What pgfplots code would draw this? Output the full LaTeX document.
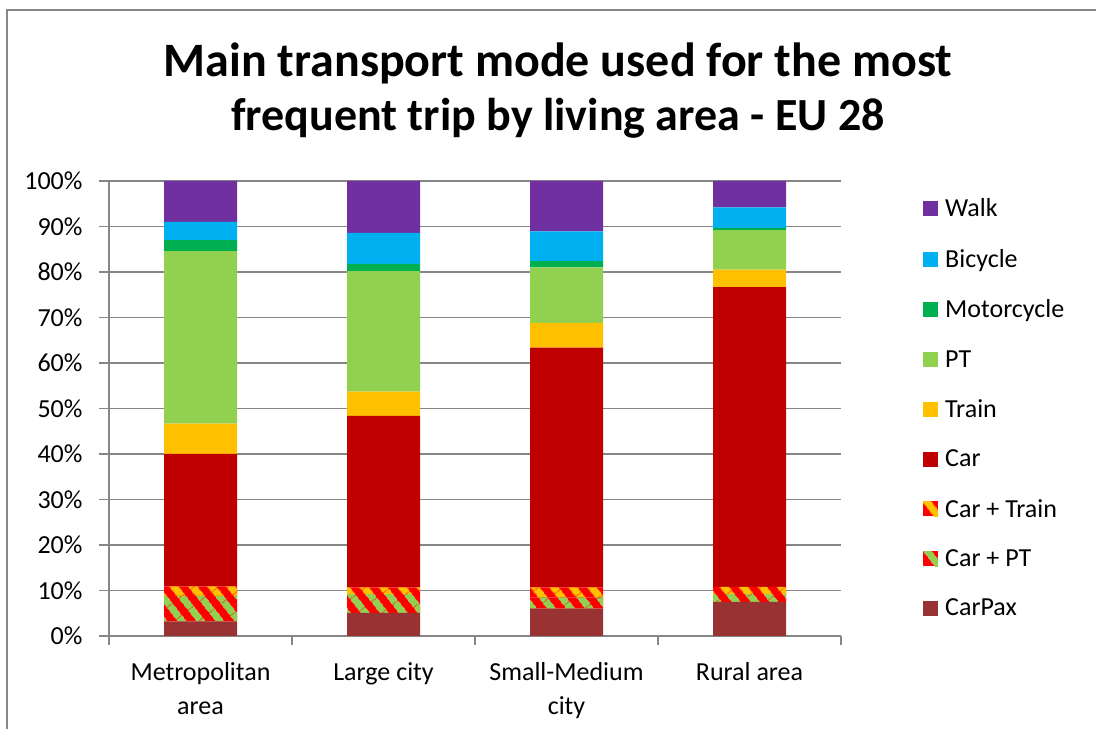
\documentclass[border=0pt]{standalone}
\usepackage{fontspec}
\setmainfont{Carlito}
\usepackage{pgfplots}
\usepackage{pgfplotstable}
\pgfplotsset{compat=1.18}
\usetikzlibrary{patterns.meta}

\definecolor{cWalk}{HTML}{7030A0}
\definecolor{cBike}{HTML}{00B0F0}
\definecolor{cMoto}{HTML}{00B050}
\definecolor{cPT}{HTML}{92D050}
\definecolor{cTrain}{HTML}{FFC000}
\definecolor{cCar}{HTML}{C00000}
\definecolor{cRed}{HTML}{FF0000}
\definecolor{cPax}{HTML}{993333}
\definecolor{cGrid}{HTML}{868686}

\pgfplotstableread{
x CarPax CarPT CarTrain Car Train PT Moto Bike Walk
0 3.2 5.6 2.1 29.1 6.7 37.9 2.4 4.0 9.0
1 5.1 4.1 1.5 37.7 5.3 26.5 1.6 6.8 11.4
2 6.0 2.5 2.2 52.7 5.4 12.2 1.4 6.5 11.1
3 7.5 1.7 1.6 65.9 3.8 8.7 0.5 4.5 5.8
}\data

\begin{document}
\begin{tikzpicture}[x=1bp,y=1bp]
\useasboundingbox (0,0) rectangle (1096,729);
\draw[cGrid, line width=1.5bp] (7,0) -- (7,719) -- (1096,719);
\node[font=\fontsize{48bp}{55bp}\selectfont\bfseries, anchor=base] at (558,652) {Main transport mode used for the most};
\node[font=\fontsize{46bp}{55bp}\selectfont\bfseries, anchor=base] at (558,598) {frequent trip by living area - EU 28};
\begin{axis}[
  at={(109bp,93bp)}, anchor=south west,
  scale only axis, width=732bp, height=455bp,
  ybar stacked, bar width=73bp,
  xmin=-0.5, xmax=3.5, ymin=0, ymax=100,
  axis lines*=left,
  axis line style={cGrid, line width=1.2bp},
  ymajorgrids, major grid style={cGrid, line width=1.2bp},
  tick align=outside,
  major tick length=10bp,
  ytick={0,10,...,100},
  yticklabels={0\%,10\%,20\%,30\%,40\%,50\%,60\%,70\%,80\%,90\%,100\%},
  ytick style={draw=cGrid, line width=1.2bp},
  yticklabel style={font=\fontsize{26bp}{30bp}\selectfont, xshift=-13bp},
  xtick={0,1,2,3},
  xticklabels={{Metropolitan\\area},{Large city},{Small-Medium\\city},{Rural area}},
  xtick style={draw=none},
  xticklabel style={font=\fontsize{26bp}{34bp}\selectfont, align=center, yshift=-13bp},
  extra x ticks={-0.5,0.5,1.5,2.5,3.5},
  extra x tick labels={},
  extra x tick style={xtick style={draw=cGrid, line width=1.2bp}, major tick length=9bp},
  reverse legend,
  legend style={at={(1.112,0.501)}, anchor=west, draw=none, fill=none, inner sep=0pt,
    font=\fontsize{26bp}{30bp}\selectfont, row sep=31bp,
    nodes={inner sep=0pt, anchor=west}},
  legend cell align=left,
  legend image code/.code={\path[#1, draw=none] (0bp,-7.5bp) rectangle (15bp,7.5bp);},
  every axis plot/.append style={draw=none},
]
\addplot[fill=cPax] table[x=x, y=CarPax] {\data};
\addlegendentry{\hspace{7bp}CarPax}
\addplot[fill=cRed, postaction={pattern={Lines[angle=-52, distance=15bp, line width=7bp]}, pattern color=cPT}] table[x=x, y=CarPT] {\data};
\addlegendentry{\hspace{7bp}Car + PT}
\addplot[fill=cRed, postaction={pattern={Lines[angle=-52, distance=15bp, line width=7.5bp]}, pattern color=cTrain}] table[x=x, y=CarTrain] {\data};
\addlegendentry{\hspace{7bp}Car + Train}
\addplot[fill=cCar] table[x=x, y=Car] {\data};
\addlegendentry{\hspace{7bp}Car}
\addplot[fill=cTrain] table[x=x, y=Train] {\data};
\addlegendentry{\hspace{7bp}Train}
\addplot[fill=cPT] table[x=x, y=PT] {\data};
\addlegendentry{\hspace{7bp}PT}
\addplot[fill=cMoto] table[x=x, y=Moto] {\data};
\addlegendentry{\hspace{7bp}Motorcycle}
\addplot[fill=cBike] table[x=x, y=Bike] {\data};
\addlegendentry{\hspace{7bp}Bicycle}
\addplot[fill=cWalk] table[x=x, y=Walk] {\data};
\addlegendentry{\hspace{7bp}Walk}
\end{axis}
\end{tikzpicture}
\end{document}
